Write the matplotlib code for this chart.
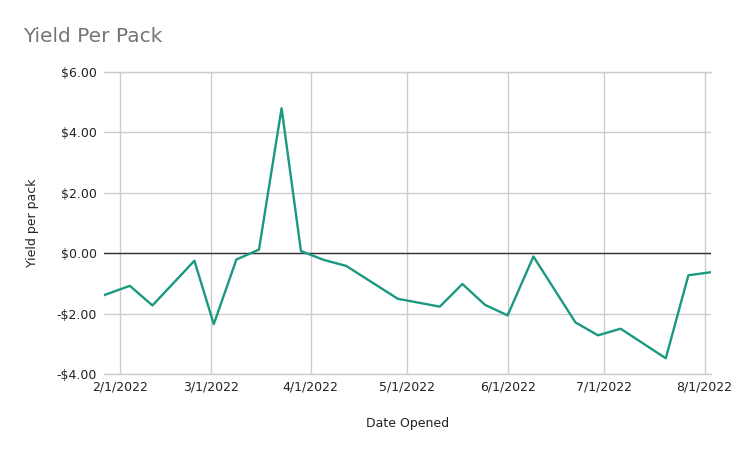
import matplotlib
matplotlib.use("Agg")
import matplotlib.pyplot as plt
import matplotlib.ticker as mticker
import pandas as pd

# values
dates = ["2022-01-27", "2022-02-04", "2022-02-11", "2022-02-24", "2022-03-02",
         "2022-03-09", "2022-03-16", "2022-03-23", "2022-03-29", "2022-04-05",
         "2022-04-12", "2022-04-28", "2022-05-11", "2022-05-18", "2022-05-25",
         "2022-06-01", "2022-06-09", "2022-06-22", "2022-06-29", "2022-07-06",
         "2022-07-20", "2022-07-27", "2022-08-03"]
yields = [-1.39, -1.08, -1.73, -0.25, -2.35,
          -0.21, 0.12, 4.80, 0.07, -0.22,
          -0.42, -1.51, -1.77, -1.02, -1.71,
          -2.06, -0.11, -2.29, -2.72, -2.50,
          -3.48, -0.73, -0.63]
tick_dates = ["2022-02-01", "2022-03-01", "2022-04-01", "2022-05-01",
              "2022-06-01", "2022-07-01", "2022-08-01"]
y_ticks = [-4, -2, 0, 2, 4, 6]

x = pd.to_datetime(dates)
ticks = pd.to_datetime(tick_dates)

fig = plt.figure(figsize=(7.34, 4.53), dpi=100)
ax = fig.add_axes([104 / 734, 1 - 374 / 453, (711 - 104) / 734, (374 - 72) / 453])

ax.plot(x, yields, color="#1a9882", linewidth=1.7, zorder=3)
ax.axhline(0, color="#333333", linewidth=1.0, zorder=2)
# edge gridlines drawn unclipped so they show fully
ax.axhline(y_ticks[0], color="#cccccc", linewidth=1.0, zorder=0, clip_on=False)
ax.axhline(y_ticks[-1], color="#cccccc", linewidth=1.0, zorder=0, clip_on=False)

ax.set_xlim(x[0], x[-1])
ax.set_ylim(-4, 6)
ax.set_yticks(y_ticks)
ax.yaxis.set_major_formatter(mticker.FuncFormatter(
    lambda v, p: ("-$%.2f" % abs(v)) if v < 0 else ("$%.2f" % v)))
ax.set_xticks(ticks)
ax.set_xticklabels([f"{d.month}/{d.day}/{d.year}" for d in ticks])

ax.grid(True, color="#cccccc", linewidth=1.0, zorder=0)
for s in ax.spines.values():
    s.set_visible(False)
ax.tick_params(axis="both", length=0, labelsize=9, colors="#222222")
ax.tick_params(axis="x", pad=5)
ax.tick_params(axis="y", pad=5)

ax.set_xlabel("Date Opened", fontsize=9, color="#222222", va="center")
ax.set_ylabel("Yield per pack", fontsize=9, color="#222222", va="center")
ax.xaxis.set_label_coords(0.5, (374 - 423) / 302)
ax.yaxis.set_label_coords((32 - 104) / 607, 0.5)

fig.text(23 / 734, 1 - 37 / 453, "Yield Per Pack", fontsize=14.5,
         color="#757575", va="center", ha="left")

fig.savefig("out.png", dpi=100)
